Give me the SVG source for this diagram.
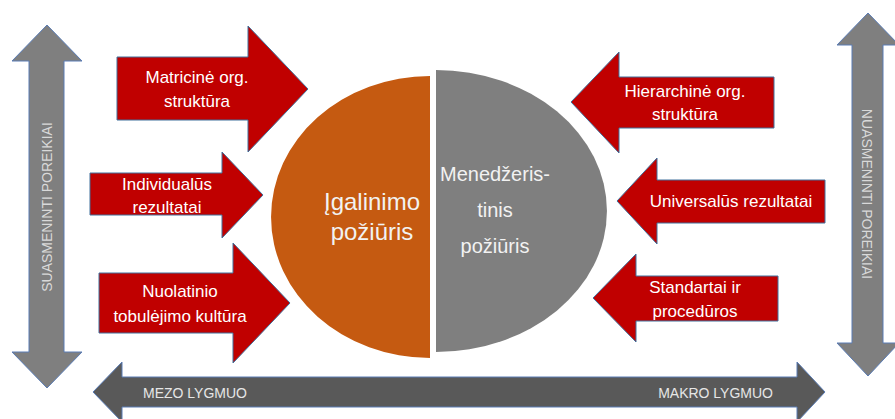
<svg xmlns="http://www.w3.org/2000/svg" width="895" height="419" viewBox="0 0 895 419">
<style>
text{font-family:"Liberation Sans",Arial,sans-serif}
.red{fill:#C00000;stroke:#41719C;stroke-width:1}
.vg{fill:#7F7F7F;stroke:#5B7DB5;stroke-width:1}
.dg{fill:#595959;stroke:#5B7DB5;stroke-width:1}
.rt{fill:#FFFFFF;font-size:17px;text-anchor:middle}
.vt{fill:#D9D9D9;font-size:14px;text-anchor:middle}
.bt{fill:#E6E6E6;font-size:14px}
.big{fill:#F2F2F2;text-anchor:middle}
</style>
<rect width="895" height="419" fill="#FFFFFF"/>
<g id="left-vertical-arrow">
<polygon class="vg" points="47,25 82,61 64,61 64,352 82,352 47,388 12,352 29,352 29,61 12,61"/>
<text class="vt" transform="translate(52,207) rotate(-90)">SUASMENINTI POREIKIAI</text>
</g>
<g id="right-vertical-arrow">
<polygon class="vg" points="868,13 899,45 883,45 883,343 899,343 868,376 837,343 852,343 852,45 837,45"/>
<text class="vt" transform="translate(862,194) rotate(90)">NUASMENINTI POREIKIAI</text>
</g>
<g id="bottom-arrow">
<polygon class="dg" points="93,392 122,362 122,377 797,377 797,362 825,392 797,422 797,407 122,407 122,422"/>
<text class="bt" x="143" y="398">MEZO LYGMUO</text>
<text class="bt" x="773" y="398" text-anchor="end">MAKRO LYGMUO</text>
</g>
<g id="empowerment-half">
<path d="M430,76 A159,141 0 0 0 430,358 Z" fill="#C55A11"/>
<text class="big" font-size="24" x="372" y="210">Įgalinimo</text>
<text class="big" font-size="24" x="372" y="240">požiūris</text>
</g>
<g id="managerial-half">
<path d="M436,70 A171,141 0 0 1 436,352 Z" fill="#7F7F7F"/>
<text class="big" font-size="20" x="495" y="181">Menedžeris-</text>
<text class="big" font-size="20" x="495" y="217">tinis</text>
<text class="big" font-size="20" x="495" y="253">požiūris</text>
</g>
<g id="matricine">
<polygon class="red" points="117,57 248,57 248,26 308,89 248,152 248,120 117,120"/>
<text class="rt" x="197" y="83">Matricinė org.</text>
<text class="rt" x="197" y="107">struktūra</text>
</g>
<g id="individualus">
<polygon class="red" points="90,173 222,173 222,152 263,195 222,238 222,215 90,215"/>
<text class="rt" x="167" y="190">Individualūs</text>
<text class="rt" x="167" y="213">rezultatai</text>
</g>
<g id="nuolatinio">
<polygon class="red" points="99,273 233,273 233,243 290,303 233,363 233,333 99,333"/>
<text class="rt" x="180" y="297">Nuolatinio</text>
<text class="rt" x="180" y="322">tobulėjimo kultūra</text>
</g>
<g id="hierarchine">
<polygon class="red" points="774,77 619,77 619,52 571,102 619,153 619,128 774,128"/>
<text class="rt" x="685" y="97">Hierarchinė org.</text>
<text class="rt" x="685" y="120">struktūra</text>
</g>
<g id="universalus">
<polygon class="red" points="825,180 657,180 657,158 617,201 657,244 657,223 825,223"/>
<text class="rt" x="731" y="207">Universalūs rezultatai</text>
</g>
<g id="standartai">
<polygon class="red" points="778,276 636,276 636,254 593,298 636,342 636,321 778,321"/>
<text class="rt" x="695" y="293">Standartai ir</text>
<text class="rt" x="695" y="317">procedūros</text>
</g>
<g id="connectors"/>
</svg>
